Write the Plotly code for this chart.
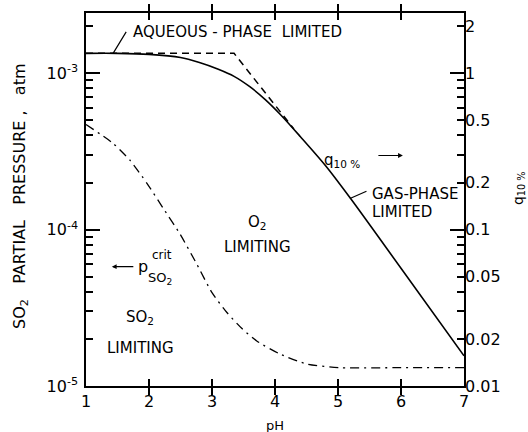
import numpy as np
import plotly.graph_objects as go

# pH axis values and SO2 partial pressures (atm)
ph_actual = [1.0, 1.5, 2.0, 2.5, 2.8, 3.1, 3.35, 3.6, 3.85, 4.1, 4.4, 4.8, 5.2, 6.0, 7.0]
p_actual = [1.34e-3, 1.34e-3, 1.32e-3, 1.26e-3, 1.17e-3, 1.06e-3, 9.55e-4, 8.2e-4,
            6.76e-4, 5.37e-4, 3.94e-4, 2.57e-4, 1.58e-4, 5.66e-5, 1.56e-5]

# limiting asymptotes (aqueous-phase plateau and gas-phase branch)
ph_limit = [1.0, 3.35, 4.3]
p_limit = [1.34e-3, 1.34e-3, 4.4e-4]

# critical SO2 pressure separating O2- and SO2-limited regimes
ph_crit = [1.0, 1.43, 1.70, 1.97, 2.22, 2.49, 2.76, 3.00, 3.24, 3.48, 3.71, 4.08,
           4.51, 5.03, 6.0, 7.0]
p_crit = [4.7e-4, 3.56e-4, 2.77e-4, 1.97e-4, 1.38e-4, 9.4e-5, 6.0e-5, 3.95e-5,
          2.94e-5, 2.32e-5, 1.94e-5, 1.60e-5, 1.38e-5, 1.31e-5, 1.31e-5, 1.31e-5]

# axis ticks
x_ticks = [1, 2, 3, 4, 5, 6, 7]
y_major = [1e-5, 1e-4, 1e-3]
y_major_text = ["10<sup>-5</sup>", "10<sup>-4</sup>", "10<sup>-3</sup>"]
q_ticks = [0.01, 0.02, 0.05, 0.1, 0.2, 0.5, 1, 2]
q_tick_text = ["0.01", "0.02", "0.05", "0.1", "0.2", "0.5", "1", "2"]

FONT = "DejaVu Sans"
LABEL = 15
NB = "\u00a0"
X_RANGE = [1, 7]
y_bot, y_top = -5, -2.615  # log10 limits of the pressure axis

y_minor = [m * 10.0 ** e for e in (-5, -4, -3) for m in range(2, 10)
           if np.log10(m * 10.0 ** e) < y_top]

fig = go.Figure()

fig.add_trace(go.Scatter(
    x=ph_actual, y=p_actual, mode="lines",
    line=dict(color="black", width=1.6, shape="spline", smoothing=0.8),
    showlegend=False, hoverinfo="skip"))

fig.add_trace(go.Scatter(
    x=ph_limit, y=p_limit, mode="lines",
    line=dict(color="black", width=1.5, dash="7px,5px"),
    showlegend=False, hoverinfo="skip"))

fig.add_trace(go.Scatter(
    x=ph_crit, y=p_crit, mode="lines",
    line=dict(color="black", width=1.3, dash="9px,5px,2px,5px", shape="spline", smoothing=0.6),
    showlegend=False, hoverinfo="skip"))

# invisible traces carrying the q10% axis and the minor-tick axis
fig.add_trace(go.Scatter(
    x=[1], y=[0.01], yaxis="y2", mode="markers",
    marker=dict(opacity=0), showlegend=False, hoverinfo="skip"))
fig.add_trace(go.Scatter(
    x=[1], y=[1e-5], yaxis="y3", mode="markers",
    marker=dict(opacity=0), showlegend=False, hoverinfo="skip"))

fig.update_layout(
    width=528, height=432,
    margin=dict(l=86, r=64, t=13, b=46),
    paper_bgcolor="white", plot_bgcolor="white",
    font=dict(family=FONT, color="black", size=LABEL),
    xaxis=dict(
        range=X_RANGE, tickmode="array", tickvals=x_ticks,
        ticktext=[str(v) for v in x_ticks],
        ticks="inside", ticklen=7, tickwidth=2, tickcolor="black",
        showline=True, linecolor="black", linewidth=1.5, mirror="allticks",
        showgrid=False, zeroline=False, tickfont=dict(size=16),
    ),
    yaxis=dict(
        type="log", range=[y_bot, y_top], tickmode="array",
        tickvals=y_major, ticktext=y_major_text,
        ticks="inside", ticklen=14, tickwidth=2, tickcolor="black",
        showline=True, linecolor="black", linewidth=1.5, mirror="allticks",
        showgrid=False, zeroline=False, tickfont=dict(size=16),
        ticklabelstandoff=3,
    ),
    yaxis2=dict(
        type="log", range=[y_bot + 3, y_top + 3], overlaying="y", side="right",
        tickmode="array", tickvals=q_ticks, ticktext=q_tick_text, ticks="",
        showline=False, showgrid=False, zeroline=False,
        tickfont=dict(size=16),
    ),
    yaxis3=dict(
        type="log", range=[y_bot, y_top], overlaying="y", side="left",
        tickmode="array", tickvals=y_minor, ticks="inside", ticklen=7,
        tickwidth=1.6, tickcolor="black", showticklabels=False,
        showline=True, linecolor="black", linewidth=1.5, mirror="allticks",
        showgrid=False, zeroline=False,
    ),
)

lg = np.log10


def label(text, x, y, size=LABEL, xanchor="center", **kw):
    return dict(text=text, x=x, y=y, showarrow=False, font=dict(size=size),
                xanchor=xanchor, yanchor="middle", **kw)


ytitle = (NB * 3).join(["SO<sub>2</sub>", "PARTIAL", "PRESSURE" + NB + ",", "atm"])

annotations = [
    # axis titles
    dict(text="pH", xref="paper", yref="paper", x=0.5, y=-0.107,
         showarrow=False, font=dict(size=13), xanchor="center", yanchor="middle"),
    dict(text=ytitle, xref="paper", yref="paper",
         x=-0.175, y=0.509, textangle=-90, showarrow=False, font=dict(size=16),
         xanchor="center", yanchor="middle"),
    dict(text="q<sub>10 %</sub>", xref="paper", yref="paper",
         x=1.145, y=0.53, textangle=-90, showarrow=False, font=dict(size=14),
         xanchor="center", yanchor="middle"),
    # region and curve labels
    label("AQUEOUS - PHASE" + NB * 2 + "LIMITED", 3.40, -2.737),
    dict(text="", x=1.43, y=lg(1.34e-3), ax=14, ay=-23, showarrow=True,
         arrowhead=0, arrowwidth=1.2, arrowcolor="black"),
    label("q<sub>10 %</sub>", 4.75, -3.56, size=15, xanchor="left"),
    dict(text="", x=6.03, y=-3.526, ax=-26, ay=0, showarrow=True,
         arrowhead=2, arrowsize=0.8, arrowwidth=1.2, arrowcolor="black"),
    label("GAS-PHASE", 5.50, -3.77, xanchor="left"),
    label("LIMITED", 5.50, -3.885, xanchor="left"),
    dict(text="", x=5.19, y=lg(1.58e-4), ax=18, ay=-8, showarrow=True,
         arrowhead=0, arrowwidth=1.2, arrowcolor="black"),
    label("O<sub>2</sub>", 3.73, -3.955),
    label("LIMITING", 3.73, -4.11),
    label("SO<sub>2</sub>", 1.86, -4.56),
    label("LIMITING", 1.86, -4.76),
    # critical pressure label
    dict(text="", x=1.41, y=-4.237, ax=23, ay=0, showarrow=True,
         arrowhead=2, arrowsize=0.8, arrowwidth=1.2, arrowcolor="black"),
    label("p", 1.79, -4.235, size=16, xanchor="left"),
    label("crit", 2.01, -4.16, size=12, xanchor="left"),
    label("SO<sub>2</sub>", 1.96, -4.31, size=13, xanchor="left"),
]
fig.update_layout(annotations=annotations)

fig.write_html("out.html")
